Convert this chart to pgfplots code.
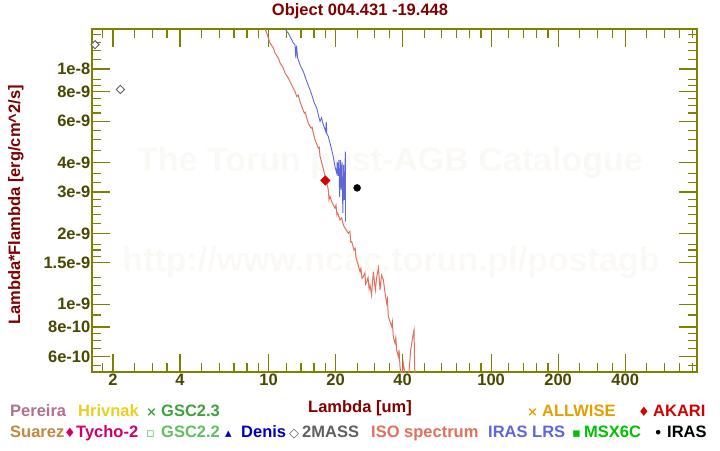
\documentclass[border=0pt]{standalone}
\usepackage{pgfplots}
\pgfplotsset{compat=1.18}
\usepackage{fontspec}
\setmainfont{Liberation Sans}
\newfontfamily\symfont{DejaVu Sans}

\definecolor{axcol}{RGB}{128,128,0}
\definecolor{tickcol}{RGB}{72,72,0}
\definecolor{titlecol}{RGB}{128,0,0}
\definecolor{isocol}{RGB}{226,112,92}
\definecolor{lrscol}{RGB}{92,104,216}
\definecolor{wmcol}{RGB}{251,249,245}
\definecolor{cpereira}{RGB}{176,112,144}
\definecolor{chrivnak}{RGB}{232,208,32}
\definecolor{cgsc23}{RGB}{64,160,64}
\definecolor{callwise}{RGB}{224,160,0}
\definecolor{cakari}{RGB}{210,0,0}
\definecolor{csuarez}{RGB}{192,136,64}
\definecolor{ctycho}{RGB}{208,0,106}
\definecolor{cgsc22}{RGB}{96,192,96}
\definecolor{cdenis}{RGB}{0,0,192}
\definecolor{ctwomass}{RGB}{96,96,96}
\definecolor{cmsx}{RGB}{0,192,0}

\newcommand{\lab}{\fontsize{16.5}{18}\bfseries\selectfont}
\newcommand{\sym}[1]{{\symfont\fontsize{13}{14}\selectfont #1}}

\begin{document}
\begin{tikzpicture}[x=1pt,y=1pt]
\path[use as bounding box] (0,0) rectangle (720,-450);

% watermark behind the plot
\node[wmcol, font=\fontsize{34}{36}\bfseries\selectfont] at (390,-163) {The Torun post-AGB Catalogue};
\node[wmcol, font=\fontsize{34}{36}\bfseries\selectfont] at (391,-263) {http://www.ncac.torun.pl/postagb};

\begin{axis}[
    at={(92pt,-372pt)}, anchor=south west,
    scale only axis, width=605pt, height=343pt,
    xmode=log, ymode=log,
    xmin=1.611, xmax=841, ymin=5.152e-10, ymax=1.48e-8,
    axis line style={axcol, line width=1.5pt},
    tick align=inside,
    every tick/.style={axcol, line width=1.2pt},
    major tick length=18pt, minor tick length=9pt,
    xtick={2,4,10,20,40,100,200,400},
    xticklabels={2,4,10,20,40,100,200,400},
    minor xtick={1.8,2.5,3,3.5,5,6,7,8,9,12,14,16,18,25,30,35,50,60,70,80,90,120,140,160,180,250,300,350,500,600,700,800},
    ytick={6e-10,8e-10,1e-9,1.5e-9,2e-9,3e-9,4e-9,6e-9,8e-9,1e-8},
    yticklabels={6e-10,8e-10,1e-9,1.5e-9,2e-9,3e-9,4e-9,6e-9,8e-9,1e-8},
    minor ytick={5.5e-10,6.5e-10,7e-10,7.5e-10,9e-10,1.1e-9,1.2e-9,1.3e-9,1.6e-9,1.7e-9,1.8e-9,2.2e-9,2.4e-9,2.6e-9,2.8e-9,3.3e-9,3.6e-9,4.5e-9,5e-9,5.5e-9,6.5e-9,7e-9,7.5e-9,8.5e-9,9e-9,1.1e-8,1.2e-8,1.3e-8,1.4e-8},
    ticklabel style={font=\lab, text=tickcol},
    yticklabel style={inner sep=1.5pt},
    xticklabel style={inner sep=2pt},
]
% ISO spectrum
\addplot[isocol, line width=1pt] coordinates {
(9.496,1.543e-8) (9.816,1.423e-8) (9.98,1.355e-8) (10.16,1.290e-8) (10.51,1.228e-8)
(10.70,1.170e-8) (11.07,1.114e-8) (11.27,1.061e-8) (11.65,1.010e-8) (11.86,9.616e-9)
(12.27,9.155e-9) (12.49,8.855e-9) (12.71,8.573e-9) (13.15,8.029e-9) (13.39,7.645e-9)
(13.6,7.75e-9) (13.85,7.279e-9) (14.10,6.931e-9) (14.48,6.499e-9) (14.65,6.55e-9)
(14.85,6.188e-9) (15.09,5.892e-9) (15.52,5.610e-9) (15.7,5.65e-9) (15.89,5.342e-9)
(16.18,5.003e-9) (16.74,4.612e-9) (16.9,4.65e-9) (17.04,4.247e-9) (17.45,3.915e-9)
(17.82,3.610e-9) (18.13,3.381e-9) (18.56,3.065e-9) (18.7,2.78e-9) (18.89,2.870e-9)
(19.35,2.690e-9) (19.89,2.562e-9) (20.1,2.64e-9) (20.3,2.40e-9) (20.46,2.439e-9)
(20.95,2.284e-9) (21.3,2.33e-9) (21.68,2.175e-9) (22.07,2.106e-9) (22.84,2.005e-9)
(23.2,2.04e-9) (23.4,1.84e-9) (23.65,1.846e-9) (24.22,1.702e-9) (24.5,1.73e-9)
(24.7,1.58e-9) (24.91,1.543e-9) (25.77,1.376e-9) (26.0,1.42e-9) (26.3,1.29e-9)
(26.67,1.310e-9) (27.1,1.36e-9) (27.3,1.22e-9) (27.62,1.248e-9) (28.0,1.30e-9)
(28.3,1.16e-9) (28.58,1.208e-9) (29.03,1.095e-9) (29.57,1.376e-9) (30.19,1.150e-9)
(30.63,1.310e-9) (31.18,1.427e-9) (31.70,1.150e-9) (32.2,1.33e-9) (32.81,1.269e-9)
(33.39,1.114e-9) (33.96,1.010e-9) (34.2,1.05e-9) (34.53,8.857e-10) (35.76,8.029e-10)
(36.0,8.4e-10) (36.36,7.279e-10) (37.00,6.826e-10) (37.3,7.2e-10) (37.66,6.388e-10)
(38.29,5.982e-10) (38.6,6.4e-10) (38.97,5.426e-10) (39.66,4.764e-10) (40.32,5.610e-10)
(41.46,4.764e-10) (42.46,4.764e-10) (43.52,6.388e-10) (44.44,7.279e-10) (45.04,7.774e-10)
(45.51,4.535e-10)
};
% IRAS LRS
\addplot[lrscol, line width=0.9pt] coordinates {
(11.74,1.514e-8) (12.07,1.445e-8) (12.27,1.423e-8) (12.71,1.332e-8) (12.92,1.290e-8)
(13.15,1.269e-8) (13.26,1.117e-8) (13.36,1.257e-8) (13.52,1.114e-8) (13.85,1.043e-8)
(14.33,9.77e-9) (14.85,8.855e-9) (15.36,8.164e-9) (15.64,7.774e-9) (16.07,7.166e-9)
(16.47,6.823e-9) (16.74,6.391e-9) (17.04,5.985e-9) (17.30,6.206e-9) (17.63,5.795e-9)
(18.07,5.426e-9) (18.17,5.968e-9) (18.28,5.305e-9) (18.56,5.167e-9) (18.89,4.843e-9)
(19.22,4.536e-9) (19.54,4.247e-9) (19.89,3.851e-9) (20.25,3.610e-9) (20.36,4.033e-9)
(20.53,3.516e-9) (20.70,4.113e-9) (20.87,2.862e-9) (21.04,4.113e-9) (21.22,3.065e-9)
(21.39,4.033e-9) (21.57,2.446e-9) (21.75,3.915e-9) (21.93,2.779e-9) (22.13,4.461e-9)
(22.18,2.246e-9)
};
% 2MASS
\addplot[only marks, mark=square*, mark size=2.9pt,
  mark options={rotate=45, fill=white, draw=ctwomass, line width=0.9pt}]
  coordinates {(1.662,1.269e-8) (2.159,8.19e-9)};
% AKARI
\addplot[only marks, mark=square*, mark size=3.4pt,
  mark options={rotate=45, fill=cakari, draw=cakari}]
  coordinates {(18.0,3.36e-9)};
% IRAS
\addplot[only marks, mark=*, mark size=3.5pt,
  mark options={fill=black, draw=black}]
  coordinates {(25.0,3.126e-9)};
\end{axis}

% title and axis labels
\node[titlecol, font=\lab] at (360,-11) {Object 004.431 -19.448};
\node[titlecol, font=\lab, anchor=base] at (360,-412) {Lambda [um]};
\node[titlecol, font=\lab, rotate=90] at (16,-205) {Lambda*Flambda [erg/cm\^{}2/s]};

% source key, row 1
\begin{scope}[every node/.style={anchor=base west, inner sep=0pt, font=\lab}]
\node[cpereira] at (10,-416) {Pereira};
\node[chrivnak] at (78,-416) {Hrivnak};
\node[cgsc23] at (146,-416) {\sym{×}};
\node[cgsc23] at (161,-416) {GSC2.3};
\node[callwise] at (527,-416) {\sym{×}};
\node[callwise] at (542,-416) {ALLWISE};
\node[cakari] at (638,-416) {\sym{♦}};
\node[cakari] at (653,-416) {AKARI};
% row 2
\node[csuarez] at (10,-437) {Suarez};
\node[ctycho] at (64,-437) {\sym{♦}};
\node[ctycho] at (76,-437) {Tycho-2};
\node[cgsc22] at (146,-437) {\sym{▫}};
\node[cgsc22] at (161,-437) {GSC2.2};
\node[cdenis] at (225,-437) {\sym{▴}};
\node[cdenis] at (241,-437) {Denis};
\node[ctwomass] at (289,-437) {\sym{◇}};
\node[ctwomass] at (302,-437) {2MASS};
\node[isocol] at (371,-437) {ISO spectrum};
\node[lrscol] at (488,-437) {IRAS LRS};
\node[cmsx] at (572,-437) {\sym{▪}};
\node[cmsx] at (584,-437) {MSX6C};
\node[black] at (654,-437) {\sym{•}};
\node[black] at (667,-437) {IRAS};
\end{scope}
\end{tikzpicture}
\end{document}
